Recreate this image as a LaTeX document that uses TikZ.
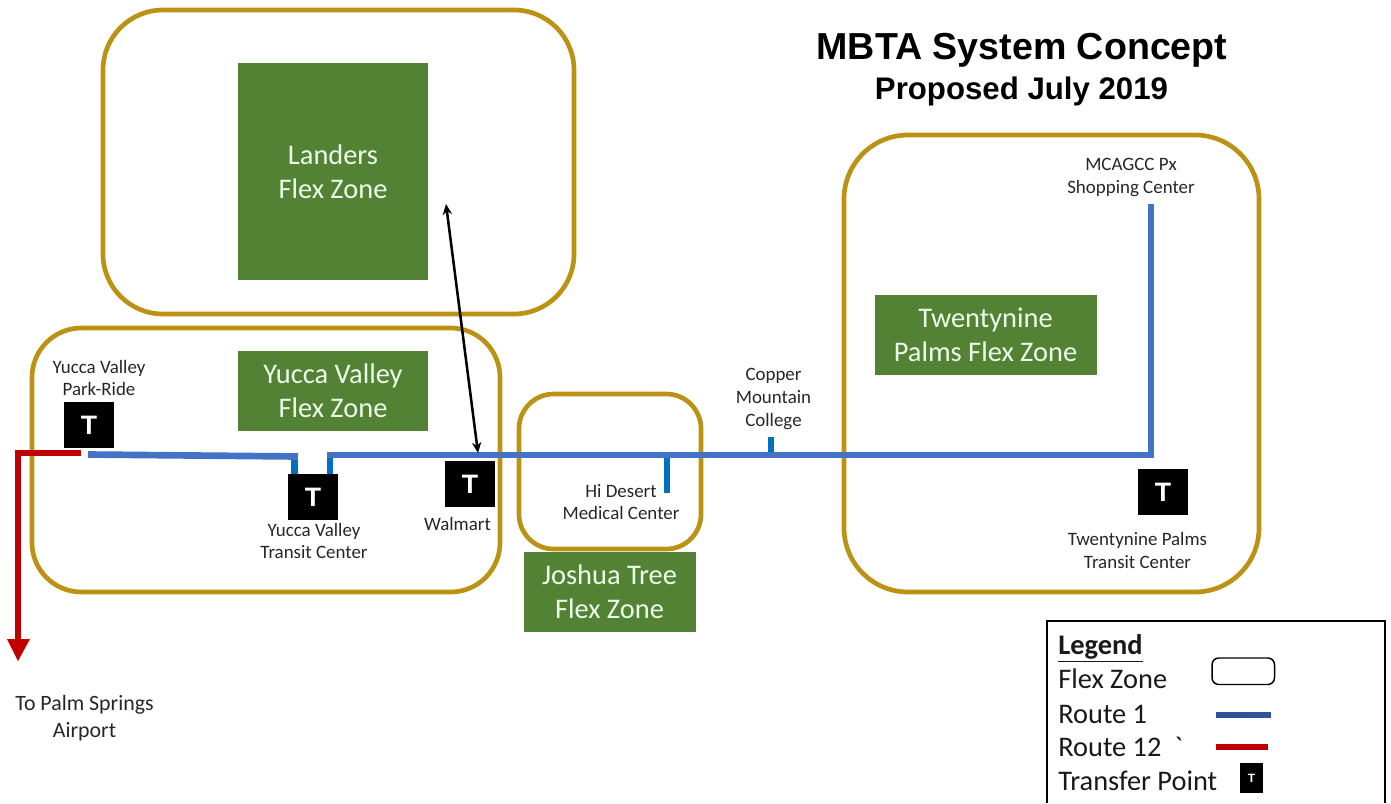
\documentclass[tikz,border=0pt]{standalone}
\usepackage{fontspec}
\setmainfont{Carlito}
\newfontfamily\titlefont{Liberation Sans}
\usetikzlibrary{arrows.meta}
\definecolor{zonegold}{RGB}{187,146,20}
\definecolor{zonegreen}{RGB}{84,130,53}
\definecolor{routeblue}{RGB}{68,114,196}
\definecolor{spurblue}{RGB}{0,112,192}
\definecolor{routered}{RGB}{192,0,0}
\definecolor{lblue}{RGB}{47,85,151}
\tikzset{
 flexzone/.style={draw=zonegold,line width=3.5pt,fill=none},
 greenbox/.style={fill=zonegreen,text=white!92!green,align=center,inner sep=0pt,font=\fontsize{21.3}{25.5}\selectfont},
 tbox/.style={fill=black,text=white,minimum width=37.5pt,minimum height=34pt,inner sep=0pt,font=\titlefont\bfseries\fontsize{20}{20}\selectfont},
 stoplabel/.style={align=center,inner sep=0pt,text=black!85,font=\fontsize{14.2}{17}\selectfont},
 route/.style={draw=routeblue,line width=5pt},
 spur/.style={draw=spurblue,line width=5pt},
 redroute/.style={draw=routered,line width=4.6pt},
 legtext/.style={anchor=west,inner sep=0pt,text=black!90,font=\fontsize{21.3}{25}\selectfont},
}
\begin{document}
\begin{tikzpicture}[x=0.75pt,y=-0.75pt]
\path[use as bounding box] (0,0) rectangle (1391,803);
% zones
\draw[flexzone,rounded corners=45pt] (103,10) rectangle (574,314);
\draw[flexzone,rounded corners=37pt] (32,328) rectangle (500,592);
\draw[flexzone,rounded corners=26pt] (519,394) rectangle (701,549);
\draw[flexzone,rounded corners=48pt] (844,135) rectangle (1259,592);
% green boxes
\node[greenbox,minimum width=142.5pt,minimum height=163pt] (landers) at (333,171.5) {Landers\\Flex Zone};
\node[greenbox,minimum width=142.5pt,minimum height=60pt] (yvzone) at (333,391) {Yucca Valley\\Flex Zone};
\node[greenbox,minimum width=129pt,minimum height=60pt] (jtzone) at (609.5,592) {Joshua Tree\\Flex Zone};
\node[greenbox,minimum width=166.5pt,minimum height=60pt] (tpzone) at (985.5,334.5) {Twentynine\\Palms Flex Zone};
% route coordinates
\coordinate (r1a) at (88,454.5);
\coordinate (r1b) at (298,456.5);
\coordinate (r1c) at (327,455);
\coordinate (r1d) at (1151,455);
\coordinate (r1e) at (1151,204);
\coordinate (hd) at (667,493);
\coordinate (hdt) at (667,455);
\coordinate (cm) at (771,455);
\coordinate (cmt) at (771,437);
% T nodes
\node[tbox] (tpark) at (89,425) {T};
\node[tbox] (tyv) at (313,497) {T};
\node[tbox] (twm) at (470,484) {T};
\node[tbox] (ttp) at (1163,492) {T};
% routes
\draw[spur] (hdt) -- (hd);
\draw[spur] (cmt) -- (cm);
\draw[spur] (294.5,456) -- (294.5,474);
\draw[spur] (330,455) -- (330,474);
\draw[route,line join=miter] (r1a) -- (r1b);
\draw[route,line join=miter] (r1c) -- (r1d) -- (r1e);
\coordinate (ra) at (81,453);
\coordinate (rb) at (18,453);
\coordinate (rc) at (18,661);
\draw[redroute,line join=miter] (ra) -- (rb) -- (18,640);
\fill[routered] (7,639) -- (30,639) -- (rc) -- cycle;
% black double arrow
\coordinate (aa) at (446,204);
\coordinate (ab) at (478,453);
\draw[black,line width=1.9pt,{Stealth[length=8pt,width=7pt]}-{Stealth[length=8pt,width=7pt]}] (aa) -- (ab);
% labels
\node[stoplabel] (lpark) at (99,378) {Yucca Valley\\Park-Ride};
\node[stoplabel] (lyv) at (314,541) {Yucca Valley\\Transit Center};
\node[stoplabel] (lwm) at (457.5,523.5) {Walmart};
\node[stoplabel] (lhd) at (621,502) {Hi Desert\\Medical Center};
\node[stoplabel] (lcm) at (773.5,399) {Copper\\Mountain\\College};
\node[stoplabel] (lmc) at (1131,177.5) {MCAGCC Px\\Shopping Center};
\node[stoplabel] (ltp) at (1137.5,550.5) {Twentynine Palms\\Transit Center};
\node[stoplabel,font=\fontsize{16.4}{20}\selectfont] (lair) at (84.5,718) {To Palm Springs\\Airport};
% title
\node[font=\titlefont\bfseries\fontsize{28.2}{32}\selectfont,inner sep=0pt] (title) at (1022,50) {MBTA System Concept};
\node[font=\titlefont\bfseries\fontsize{23.4}{26}\selectfont,inner sep=0pt] (sub) at (1021.5,91) {Proposed July 2019};
% legend
\draw[black,line width=1.5pt] (1046.5,803) -- (1046.5,621) -- (1385,621) -- (1385,803);
\node[legtext,font=\bfseries\fontsize{21.3}{25}\selectfont] (lg) at (1058,648) {\underline{Legend}};
\node[legtext] (l1) at (1058,679) {Flex Zone};
\node[legtext] (l2) at (1058,714) {Route 1};
\node[legtext] (l3) at (1058,747) {Route 12\ \ \textasciigrave};
\node[legtext] (l4) at (1058,781) {Transfer Point};
\draw[black,line width=1.1pt,rounded corners=5pt] (1212,658) rectangle (1274.5,684.5);
\draw[draw=lblue,line width=4.6pt] (1216,715) -- (1271,715);
\draw[draw=routered,line width=4.6pt] (1216,747) -- (1268,747);
\node[fill=black,text=white,minimum width=17pt,minimum height=22pt,inner sep=0pt,font=\titlefont\bfseries\fontsize{9}{9}\selectfont] (lt) at (1251.5,778) {T};
\end{tikzpicture}
\end{document}
